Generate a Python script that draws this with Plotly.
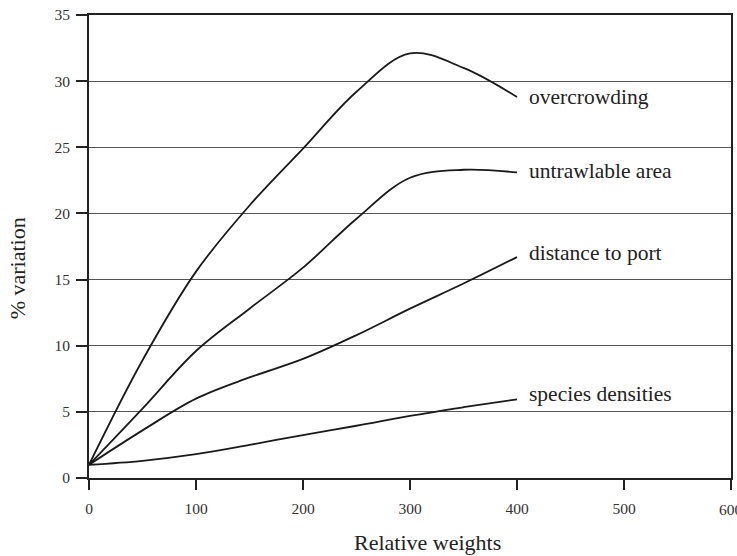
import plotly.graph_objects as go

x_vals = [0, 50, 100, 150, 200, 250, 300, 350, 400]
y_over = [1, 8.9, 15.6, 20.6, 24.9, 29.2, 32.1, 31.0, 28.8]
y_untr = [1, 5.25, 9.6, 12.8, 15.9, 19.6, 22.7, 23.3, 23.1]
y_dist = [1, 3.6, 6.0, 7.6, 9.0, 10.8, 12.8, 14.7, 16.7]
y_spec = [1, 1.3, 1.8, 2.5, 3.25, 3.95, 4.7, 5.35, 5.95]

series_names = ["overcrowding", "untrawlable area", "distance to port", "species densities"]
x_ticks = [0, 100, 200, 300, 400, 500, 600]
y_ticks = [0, 5, 10, 15, 20, 25, 30, 35]

FONT = "Liberation Serif"

fig = go.Figure()
series = [y_over, y_untr, y_dist, y_spec]
for ys, name in zip(series, series_names):
    fig.add_trace(go.Scatter(x=x_vals, y=ys, mode="lines", name=name,
                             line=dict(color="#1a1a1a", width=1.8, shape="spline", smoothing=1.0),
                             showlegend=False, hoverinfo="skip"))

label_shift = [0, 1, 4, 5]
for ys, name, sh in zip(series, series_names, label_shift):
    fig.add_annotation(x=x_vals[-1], y=ys[-1], xref="x", yref="y", text=name,
                       showarrow=False, xanchor="left", yanchor="middle",
                       xshift=10, yshift=sh,
                       font=dict(family=FONT, size=21.5, color="#222"))

# last x tick label (partly cut by the page edge, as in the reference)
fig.add_annotation(x=x_ticks[-1], y=0, xref="x", yref="paper", text=str(x_ticks[-1]),
                   showarrow=False, xanchor="center", yanchor="top", yshift=-21,
                   font=dict(family=FONT, size=15.5, color="#333"))

fig.add_annotation(xref="paper", yref="paper", x=0.528, y=-0.140, text="Relative weights",
                   showarrow=False, xanchor="center", yanchor="middle",
                   font=dict(family=FONT, size=22, color="#222"))
fig.add_annotation(xref="paper", yref="paper", x=-0.110, y=0.4536, text="% variation",
                   showarrow=False, xanchor="center", yanchor="middle", textangle=-90,
                   font=dict(family=FONT, size=22, color="#222"))

fig.update_xaxes(range=[0, 600], tickvals=x_ticks, ticktext=[str(v) for v in x_ticks],
                 ticks="outside", ticklen=10, tickwidth=1.5, tickcolor="#222",
                 showline=True, linecolor="#222", linewidth=2, mirror=True,
                 showgrid=False, zeroline=False, ticklabelstandoff=5,
                 tickfont=dict(family=FONT, size=15.5, color="#333"))
fig.update_yaxes(range=[0, 35], tickvals=y_ticks, ticktext=[str(v) for v in y_ticks],
                 ticks="outside", ticklen=11, tickwidth=1.5, tickcolor="#222",
                 showline=True, linecolor="#222", linewidth=2, mirror=True,
                 showgrid=True, gridcolor="#555", gridwidth=1.3, zeroline=False,
                 ticklabelstandoff=3,
                 tickfont=dict(family=FONT, size=15.5, color="#333"))

fig.update_layout(width=737, height=556, margin=dict(l=89, r=4, t=15, b=78),
                  paper_bgcolor="white", plot_bgcolor="white",
                  font=dict(family=FONT))

fig.write_html("out.html")
